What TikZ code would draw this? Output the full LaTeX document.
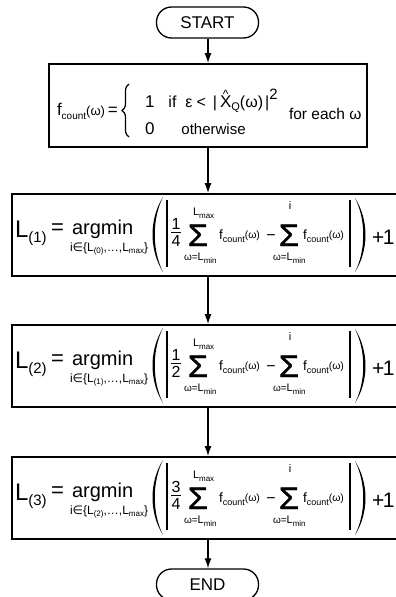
\documentclass[tikz,border=0pt]{standalone}
\usepackage{fontspec}
\setmainfont{Liberation Sans}
\newfontfamily\dejavu{DejaVu Sans}
\newfontfamily\sigfont[FakeBold=1.2]{Liberation Sans}
\usetikzlibrary{arrows.meta,decorations.pathreplacing}
\newcommand\fsz[2]{{\fontsize{#1}{#1}\selectfont #2}}
\newcommand\fcnt{\fsz{13.5}{f}\raisebox{-3pt}{\fsz{9}{count}}\raisebox{1pt}{\fsz{10.5}{(ω)}}}
\newcommand\Xhat{\makebox[0pt][l]{\hspace{2.8pt}\raisebox{9pt}{\fsz{12}{\textasciicircum}}}X}
\newcommand\bigsig{\scalebox{1.05}[1]{\fsz{31}{\sigfont Σ}}}
\newcommand\Lbox[6]{%
\begin{scope}[yshift=-#2pt]
\node[txt,anchor=base west] (#1L) at (15,43) {\fsz{24}{L}\raisebox{-5pt}{\fsz{15}{(#3)}}};
\node[txt,anchor=base west] (#1eq) at (51,40) {\fsz{22}{=}};
\node[txt,anchor=base west] (#1am) at (72,40) {\fsz{20}{argmin}};
\node[txt,anchor=base west] (#1set) at (70,57) {\fsz{12}{i{\dejavu ∈}\{L\raisebox{-2pt}{\fsz{8}{(#6)}},…,L\raisebox{-2pt}{\fsz{8}{max}}\}}};
\fill (163,3) .. controls (149,25) and (149,56) .. (163,78) .. controls (152,56) and (152,25) .. (163,3) -- cycle;
\draw[vbar] (167,6) -- (167,73);
\node[txt,anchor=base] (#1num) at (176,35) {\fsz{16}{#4}};
\node[txt,anchor=base] (#1den) at (176,52) {\fsz{16}{#5}};
\draw[line width=1pt] (171,38) -- (181,38);
\node[txt,anchor=base] (#1sa) at (198,52) {\bigsig};
\node[txt,anchor=base west] (#1ua) at (193,21.5) {\fsz{11}{L}\raisebox{-3pt}{\fsz{8}{max}}};
\node[txt,anchor=base west] (#1la) at (184,66) {\fsz{10}{ω=}\fsz{11}{L}\raisebox{-3pt}{\fsz{8}{min}}};
\node[txt,anchor=base west] (#1fa) at (219,45) {\fcnt};
\node[txt,anchor=base] (#1mi) at (271,46) {\fsz{16}{−}};
\node[txt,anchor=base] (#1sb) at (289,52) {\bigsig};
\node[txt,anchor=base] (#1ub) at (290,15) {\fsz{11}{i}};
\node[txt,anchor=base west] (#1lb) at (273,66) {\fsz{10}{ω=}\fsz{11}{L}\raisebox{-3pt}{\fsz{8}{min}}};
\node[txt,anchor=base west] (#1fb) at (303,45) {\fcnt};
\draw[vbar] (350,6) -- (350,73);
\fill (355,4) .. controls (369,26) and (369,56) .. (355,78) .. controls (366,56) and (366,26) .. (355,4) -- cycle;
\node[txt,anchor=base west] (#1p1) at (372,50) {\fsz{21}{+}\hspace{-1.5pt}\fsz{21}{1}};
\end{scope}}
\begin{document}
\begin{tikzpicture}[x=1pt,y=-1pt,
  txt/.style={inner sep=0pt,outer sep=0pt},
  boxst/.style={draw,line width=1.8pt,inner sep=0pt},
  termst/.style={draw,line width=1.3pt,rounded corners=15pt,minimum width=102pt,minimum height=31pt,inner sep=0pt,font=\fontsize{17}{17}\selectfont},
  arrst/.style={line width=1.3pt,-{Latex[length=10pt,width=7pt]}},
  vbar/.style={line width=2.2pt}]
\useasboundingbox (0,0) rectangle (396,597);
\clip (0,0) rectangle (396,597);
\node[termst] (start) at (207.5,22.5) {START};
\node[boxst,minimum width=318pt,minimum height=83pt] (b1) at (208,105.5) {};
\node[boxst,minimum width=388pt,minimum height=82pt] (b2) at (206,235) {};
\node[boxst,minimum width=388pt,minimum height=82pt] (b3) at (206,366) {};
\node[boxst,minimum width=388pt,minimum height=82pt] (b4) at (206,498) {};
\node[termst] (end) at (207.5,584.5) {END};
\draw[arrst] (b1.north |- start.south) -- (b1.north);
\draw[arrst] (b1.south) -- (b1.south |- b2.north);
\draw[arrst] (b1.south |- b2.south) -- (b1.south |- b3.north);
\draw[arrst] (b1.south |- b3.south) -- (b1.south |- b4.north);
\draw[arrst] (b1.south |- b4.south) -- (b1.south |- end.north);
% box 1
\node[txt,anchor=base west] (fdef) at (57,115) {\fsz{17}{f}\raisebox{-4pt}{\fsz{10}{count}}\fsz{13}{(ω)}\hspace{3pt}\fsz{17}{=}};
\draw[decorate,decoration={brace,amplitude=7pt},line width=1.2pt] (129,137) -- (129,84);
\node[txt,anchor=base west] (row1) at (145,107) {\fsz{17}{1}\hspace{14pt}\fsz{16}{if\hspace{9pt}ε\hspace{4pt}<\hspace{7pt}|\hspace{3pt}}\fsz{17}{\Xhat}\raisebox{-3pt}{\fsz{11}{Q}}\fsz{16}{(ω)\hspace{2pt}|}\raisebox{8pt}{\fsz{15}{2}}};
\node[txt,anchor=base west] (row2) at (145,134) {\fsz{17}{0}\hspace{27pt}\fsz{15}{otherwise}};
\node[txt,anchor=base west] (each) at (289,119) {\fsz{15.5}{for each ω}};
% boxes 2-4
\Lbox{p}{194}{1}{1}{4}{0}
\Lbox{q}{325}{2}{1}{2}{1}
\Lbox{r}{457}{3}{3}{4}{2}
\end{tikzpicture}
\end{document}
